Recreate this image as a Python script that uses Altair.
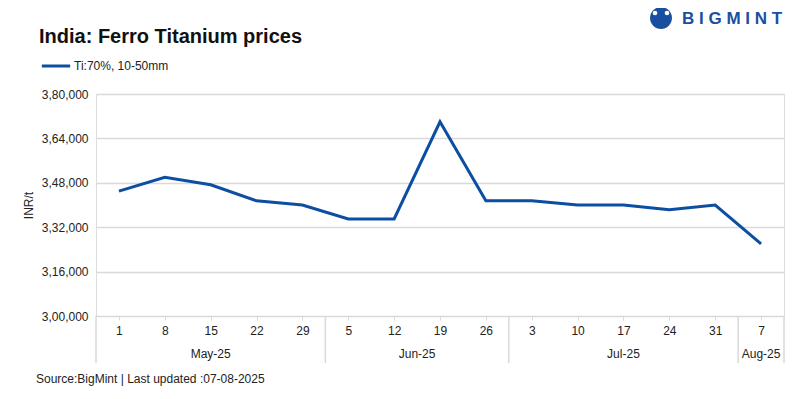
import altair as alt
import pandas as pd

days = ["1", "8", "15", "22", "29", "5", "12", "19", "26", "3", "10", "17", "24", "31", "7"]
months = ["May-25"] * 5 + ["Jun-25"] * 4 + ["Jul-25"] * 5 + ["Aug-25"]
prices = [345000, 350000, 347300, 341500, 340000, 335000, 335000, 370000,
          341500, 341500, 340000, 340000, 338300, 340000, 326000]
series_name = "Ti:70%, 10-50mm"
y_ticks = [300000, 316000, 332000, 348000, 364000, 380000]

FONT = "Liberation Sans"
LINE = "#0b4ea2"
GRID = "#d9d9d9"

df = pd.DataFrame({"idx": list(range(len(days))), "day": days, "month": months,
                   "price": prices, "series": series_name})

# month groups derived from the month list
groups = []
for m in dict.fromkeys(months):
    ids = [i for i, mm in enumerate(months) if mm == m]
    groups.append({"month": m, "center": (ids[0] + ids[-1]) / 2})
mdf = pd.DataFrame(groups)
bounds = [-0.5] + [i + 0.5 for i in range(len(months) - 1) if months[i] != months[i + 1]] + [len(months) - 0.5]
bdf = pd.DataFrame({"b": bounds})

label_arr = "[" + ",".join("'" + d + "'" for d in days) + "]"

xscale = alt.Scale(domain=[-0.5, len(days) - 0.5], nice=False, zero=False)

line = alt.Chart(df).mark_line(strokeWidth=3).encode(
    x=alt.X("idx:Q", scale=xscale,
            axis=alt.Axis(values=list(range(len(days))), labelExpr=label_arr + "[datum.value]",
                          title=None, grid=False, domainColor=GRID, tickColor=GRID,
                          tickSize=4, labelPadding=5, labelFontSize=12, labelColor="#222",
                          labelFont=FONT)),
    y=alt.Y("price:Q", scale=alt.Scale(domain=[300000, 380000], nice=False, zero=False),
            axis=alt.Axis(values=y_ticks, title="INR/t", titleFontSize=12, titleFontWeight="normal",
                          titleColor="#222", titleFont=FONT, titlePadding=6,
                          labelExpr="floor(datum.value/100000) + ',' + format(floor((datum.value%100000)/1000),'02d') + ',' + format(datum.value%1000,'03d')",
                          labelFontSize=12, labelColor="#222", labelFont=FONT, labelPadding=8,
                          ticks=False, domain=False, gridColor=GRID, gridWidth=1.5)),
    color=alt.Color("series:N", scale=alt.Scale(range=[LINE]),
                    legend=alt.Legend(title=None, orient="none", legendX=-56, legendY=-44,
                                      symbolType="stroke", symbolStrokeWidth=3, symbolSize=800,
                                      labelFontSize=12, labelFont=FONT, labelColor="#222",
                                      labelOffset=2)),
)

month_text = alt.Chart(mdf).mark_text(fontSize=12, font=FONT, color="#222", baseline="middle").encode(
    x=alt.X("center:Q", scale=xscale),
    y=alt.value(260),
    text="month:N",
)

seps = alt.Chart(bdf).mark_rule(color=GRID, strokeWidth=1.5).encode(
    x=alt.X("b:Q", scale=xscale),
    y=alt.value(222),
    y2=alt.value(269),
)

title = alt.Chart(pd.DataFrame({"t": ["India: Ferro Titanium prices"]})).mark_text(
    fontSize=20, fontWeight="bold", font=FONT, color="#111", align="left", baseline="middle"
).encode(x=alt.value(-57), y=alt.value(-57), text="t:N")

source = alt.Chart(pd.DataFrame({"t": ["Source:BigMint | Last updated :07-08-2025"]})).mark_text(
    fontSize=12, font=FONT, color="#222", align="left", baseline="middle"
).encode(x=alt.value(-60), y=alt.value(285), text="t:N")

logo_text = alt.Chart(pd.DataFrame({"t": ["B I G M I N T"]})).mark_text(
    fontSize=17, fontWeight="bold", font=FONT, color="#1a4fa0", align="left", baseline="middle"
).encode(x=alt.value(586), y=alt.value(-75), text="t:N")

logo_icon = alt.Chart(pd.DataFrame({"t": ["i"]})).mark_point(
    filled=True, color="#1a4fa0", shape="circle", size=480, opacity=1
).encode(x=alt.value(565), y=alt.value(-76))

logo_heads = alt.Chart(pd.DataFrame({"dx": [559, 571]})).mark_point(
    filled=True, color="white", shape="circle", size=22, opacity=1
).encode(x=alt.X("dx:Q", scale=None), y=alt.value(-81))

chart = alt.layer(line, month_text, seps, title, source, logo_icon, logo_heads, logo_text).properties(
    width=688, height=222,
    autosize=alt.AutoSizeParams(type="none"),
    padding={"left": 88, "top": 86, "right": 8, "bottom": 70},
).configure_view(stroke=None).configure(font=FONT)

chart.save("out.html", embed_options={"renderer": "svg", "actions": False})
